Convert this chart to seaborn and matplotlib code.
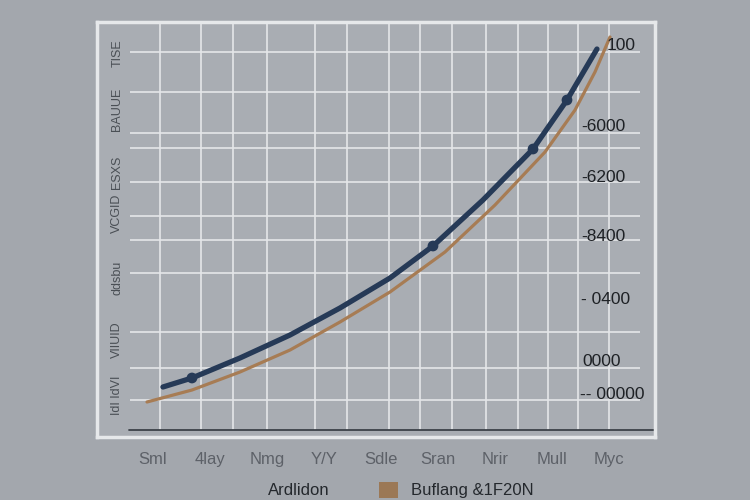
import numpy as np
import pandas as pd
import matplotlib
matplotlib.use("Agg")
import matplotlib.pyplot as plt
from matplotlib.patches import Patch
import seaborn as sns

# category labels along the bottom
categories = ["Sml", "4lay", "Nmg", "Y/Y", "Sdle", "Sran", "Nrir", "Mull", "Myc"]

# series values (x in category units, y in chart units)
navy_x = [0.175, 0.684, 1.526, 2.404, 3.281, 4.158, 4.912, 5.789, 6.667, 7.263, 7.789]
navy_y = [113.8, 137.6, 190.5, 251.3, 322.8, 402.1, 486.8, 608.5, 743.4, 873.0, 1007.9]
navy_marker = [False, True, False, False, False, False, True, False, True, True, False]

tan_x = [-0.105, 0.684, 1.526, 2.404, 3.281, 4.158, 5.123, 6.0, 6.877, 7.404, 7.754, 8.018]
tan_y = [74.1, 105.8, 153.4, 211.6, 285.7, 365.1, 470.9, 595.2, 735.4, 846.6, 947.1, 1039.7]

# grid positions
grid_x = [0.123, 0.842, 1.404, 2.0, 2.842, 3.404, 4.14, 4.684, 5.246, 5.842, 6.404, 6.93, 7.456, 8.0]
grid_y = [79, 164, 259, 415, 503, 566, 656, 746, 786, 894, 1000]

# left (rotated) labels
left_pos = [93, 238, 402, 574, 683, 847, 997]
left_labels = ["IdI IdVI", "VIIUID", "ddsbu", "VCGID", "ESXS", "BAUUE", "TISE"]

# right side labels
right_labels = ["100", "-6000", "-6200", "-8400", "- 0400", "0000", "-- 00000"]
right_x = [7.95, 7.51, 7.51, 7.51, 7.51, 7.54, 7.49]
right_y = [1018, 802, 669, 511, 344, 180, 93]

legend_labels = ["Ardlidon", "Buflang &1F20N"]

NAVY = "#263a57"
TAN = "#a77c54"
BG = "#a3a7ad"
AX_BG = "#a9adb3"

sns.set_theme(style="white")
plt.rcParams["font.family"] = ["Liberation Sans", "DejaVu Sans"]

fig = plt.figure(figsize=(7.5, 5), dpi=100, facecolor=BG)
ax = fig.add_axes([97 / 750, 1 - 437 / 500, 558 / 750, 415 / 500])
ax.set_facecolor(AX_BG)

ax.set_xlim(-0.982, 8.807)
ax.set_ylim(-18.5, 1079.4)

# grid
ax.vlines(grid_x, 0, 1079.4, color="#e4e6e9", linewidth=1.2, zorder=1)
ax.hlines(grid_y, -0.40, 8.54, color="#e4e6e9", linewidth=1.2, zorder=1)
ax.axhline(0, xmin=0.057, xmax=1, color="#3c4148", linewidth=1.3, zorder=2)

# lines
sns.lineplot(x=tan_x, y=tan_y, ax=ax, color=TAN, linewidth=2.3, sort=False,
             estimator=None, zorder=3)
sns.lineplot(x=navy_x, y=navy_y, ax=ax, color=NAVY, linewidth=3.8, sort=False,
             estimator=None, zorder=4)
df_m = pd.DataFrame({"x": navy_x, "y": navy_y, "m": navy_marker})
df_m = df_m[df_m["m"]]
sns.scatterplot(data=df_m, x="x", y="y", ax=ax, color=NAVY, s=60,
                edgecolor="none", zorder=5)

# x labels
ax.set_xticks(range(len(categories)))
ax.set_xticklabels(categories, fontsize=12, color="#5d6168")
ax.tick_params(axis="x", length=0, pad=11)

# left labels inside the frame
ax.set_yticks(left_pos)
ax.set_yticklabels(left_labels, rotation=90, fontsize=9, color="#4a4f55",
                   va="center")
ax.tick_params(axis="y", length=0, pad=-19)

for t, xx, yy in zip(right_labels, right_x, right_y):
    ax.text(xx, yy, t, fontsize=12.5, color="#1e2125", ha="left", va="center",
            zorder=6)

for s in ax.spines.values():
    s.set_color("#e6e8ea")
    s.set_linewidth(2.5)

ax.set_xlabel("")
ax.set_ylabel("")

handles = [Patch(facecolor="none", edgecolor="none"), Patch(facecolor="#9b7856", edgecolor="none")]
fig.legend(handles, legend_labels, loc="center", bbox_to_anchor=(0.513, 0.02),
           ncol=2, frameon=False, handlelength=1.1, handleheight=1.1,
           columnspacing=3.0, fontsize=12, labelcolor="#24282d")

fig.savefig("out.png", dpi=100, facecolor=BG)
